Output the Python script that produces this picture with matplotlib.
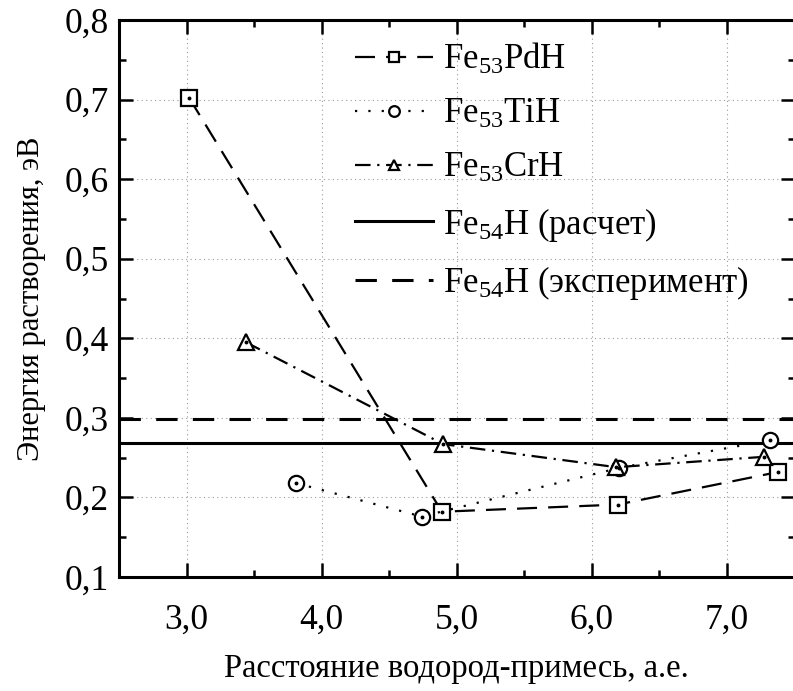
import numpy as np
import matplotlib
matplotlib.use("Agg")
import matplotlib.pyplot as plt
from matplotlib.ticker import MultipleLocator, FuncFormatter

plt.rcParams['font.family'] = ['Liberation Serif', 'DejaVu Serif']
plt.rcParams['mathtext.fontset'] = 'custom'
plt.rcParams['mathtext.rm'] = 'Liberation Serif'
plt.rcParams['mathtext.it'] = 'Liberation Serif:italic'

# data
x_pd = [3.02, 4.89, 6.19, 7.38]
y_pd = [0.702, 0.182, 0.191, 0.232]
x_ti = [3.81, 4.74, 6.20, 7.32]
y_ti = [0.218, 0.176, 0.237, 0.272]
x_cr = [3.44, 4.90, 6.18, 7.27]
y_cr = [0.395, 0.267, 0.238, 0.251]
e_calc = 0.268
e_exp = 0.298

labels = [r'Fe$_{53}$PdH', r'Fe$_{53}$TiH', r'Fe$_{53}$CrH',
          r'Fe$_{54}$H (расчет)', r'Fe$_{54}$H (эксперимент)']

fig = plt.figure(figsize=(7.93, 6.91), dpi=100)
ax = fig.add_axes([0.150, 0.165, 0.852, 0.806])

ax.grid(True, which='major', linestyle=(0, (1, 3)), color='#999999', linewidth=0.8)
ax.set_axisbelow(True)

h_calc = ax.axhline(e_calc, color='black', linewidth=2.2)
h_exp = ax.axhline(e_exp, color='black', linewidth=2.2, linestyle=(0, (7, 5)))

mk = dict(markersize=11, markerfacecolor='white', markeredgecolor='black', markeredgewidth=1.6)
l_pd, = ax.plot(x_pd, y_pd, color='black', linewidth=1.6, linestyle=(0, (9, 5)), marker='s', **mk)
l_ti, = ax.plot(x_ti, y_ti, color='black', linewidth=1.6, linestyle=(0, (1, 5)), marker='o', **mk)
l_cr, = ax.plot(x_cr, y_cr, color='black', linewidth=1.6, linestyle=(0, (7, 3, 1, 3)), marker='^', **mk)
# little dots in the middle of the markers
for xs, ys in [(x_pd, y_pd), (x_ti, y_ti), (x_cr, y_cr)]:
    ax.plot(xs, ys, linestyle='none', marker='o', markersize=1.8, color='black')

ax.set_xlim(2.5, 7.5)
ax.set_ylim(0.1, 0.8)
ax.xaxis.set_major_locator(MultipleLocator(1.0))
ax.xaxis.set_minor_locator(MultipleLocator(0.5))
ax.yaxis.set_major_locator(MultipleLocator(0.1))
ax.yaxis.set_minor_locator(MultipleLocator(0.05))
ax.xaxis.set_major_formatter(FuncFormatter(lambda v, p: ('%.1f' % v).replace('.', ',')))
ax.yaxis.set_major_formatter(FuncFormatter(lambda v, p: ('%.1f' % v).replace('.', ',')))
ax.tick_params(which='both', direction='in', top=True, right=True, width=1.8)
ax.tick_params(which='major', length=10, labelsize=25.5)
ax.tick_params(axis='x', which='major', pad=19)
ax.tick_params(axis='y', which='major', pad=7)
ax.tick_params(which='minor', length=5)
for s in ax.spines.values():
    s.set_linewidth(2.2)

ax.set_xlabel('Расстояние водород-примесь, а.е.', fontsize=23.5, labelpad=12)
ax.set_ylabel('Энергия растворения, эВ', fontsize=22, labelpad=14)

ax.legend([l_pd, l_ti, l_cr, h_calc, h_exp], labels, loc='upper left',
          bbox_to_anchor=(0.349, 0.961), frameon=False, fontsize=25,
          borderaxespad=0, borderpad=0, markerscale=0.7,
          handlelength=2.25, handletextpad=0.3, labelspacing=0.6)

fig.savefig('out.png', dpi=100)
